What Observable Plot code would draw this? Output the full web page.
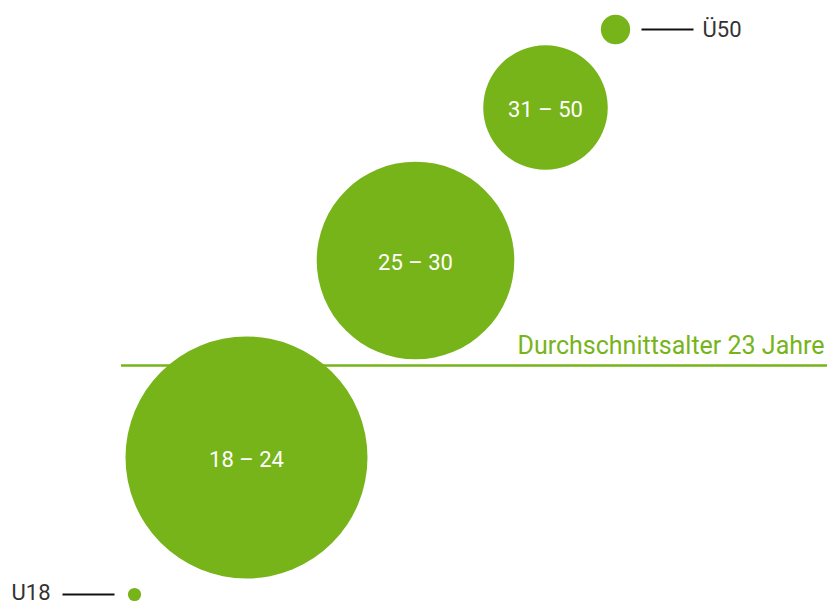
<!DOCTYPE html>
<html>
<head>
<meta charset="utf-8">
<script src="https://cdn.jsdelivr.net/npm/d3@7"></script>
<script src="https://cdn.jsdelivr.net/npm/@observablehq/plot@0.6"></script>
<style>
  html, body { margin: 0; padding: 0; background: #fff; }
  #chart svg { display: block; }
</style>
</head>
<body>
<div id="chart"></div>
<script>
// Age groups and their shares (%)
const groups = ["U18", "18 – 24", "25 – 30", "31 – 50", "Ü50"];
const shares = [0.15, 51, 34, 13.5, 0.75];
// Layout position of each bubble (abstract units)
const posX = [134, 246, 415, 545, 615];
const posY = [9, 146, 343, 496, 574];
// Small groups labelled outside with a leader line
const outsideSide = ["left", null, null, null, "right"];
// Average age reference line
const averageLabel = "Durchschnittsalter 23 Jahre";
const averageY = 238;

const green = "#76b41a";
const data = groups.map((g, i) => ({group: g, share: shares[i], x: posX[i], y: posY[i], side: outsideSide[i]}));
const inside = data.filter(d => !d.side);
const leftOut = data.filter(d => d.side === "left");
const rightOut = data.filter(d => d.side === "right");

const chart = Plot.plot({
  width: 827,
  height: 603,
  margin: 0,
  x: {domain: [0, 827], axis: null},
  y: {domain: [0, 603], axis: null},
  r: {type: "sqrt", domain: [0, 51], range: [0, 121]},
  style: {fontFamily: "Roboto, sans-serif", background: "#fff"},
  marks: [
    Plot.ruleY([averageY], {x1: 121, x2: 827, stroke: green, strokeWidth: 2.5}),
    Plot.text([averageLabel], {x: 824, y: averageY, text: d => d, textAnchor: "end", dy: -20, fill: green, fontSize: 25}),
    Plot.dot(data, {x: "x", y: "y", r: "share", fill: green, stroke: "none"}),
    Plot.text(inside, {x: "x", y: "y", text: "group", fill: "white", fontSize: 22, dy: 2}),
    Plot.link(leftOut, {x1: d => d.x - 20, x2: d => d.x - 72, y1: "y", y2: "y", stroke: "#111", strokeWidth: 2}),
    Plot.link(rightOut, {x1: d => d.x + 26, x2: d => d.x + 78, y1: "y", y2: "y", stroke: "#111", strokeWidth: 2}),
    Plot.text(leftOut, {x: d => d.x - 84, y: "y", text: "group", textAnchor: "end", fill: "#333", fontSize: 22, dy: -2}),
    Plot.text(rightOut, {x: d => d.x + 87, y: "y", text: "group", textAnchor: "start", fill: "#333", fontSize: 22})
  ]
});
document.getElementById("chart").append(chart);
</script>
</body>
</html>
